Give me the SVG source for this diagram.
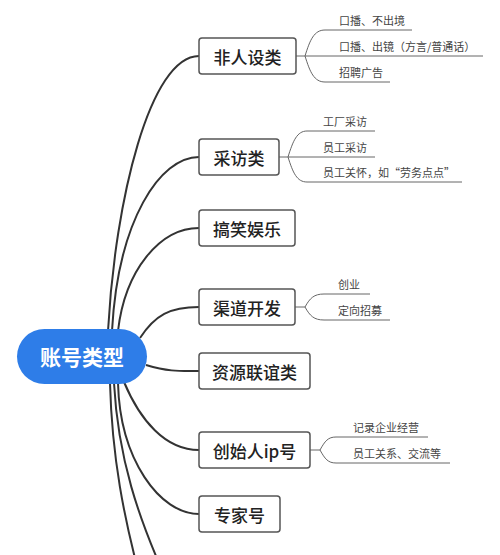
<svg xmlns="http://www.w3.org/2000/svg" width="500" height="555" viewBox="0 0 500 555">
<style>
.bg{fill:#ffffff}
.main{fill:none;stroke:#333;stroke-width:2}
.sub{fill:none;stroke:#666;stroke-width:1}
.box{fill:#fff;stroke:#555;stroke-width:1.5}
.t1{font-family:"Noto Sans CJK SC","Noto Sans",sans-serif;font-size:17px;font-weight:500;fill:#222;text-anchor:middle;dominant-baseline:central}
.t2{font-family:"Noto Sans CJK SC","Noto Sans",sans-serif;font-size:11px;fill:#444}
.root{fill:#2e7de8}
.rt{font-family:"Noto Sans CJK SC","Noto Sans",sans-serif;font-size:21px;font-weight:bold;fill:#fff;text-anchor:middle;dominant-baseline:central}
</style>
<rect class="bg" width="500" height="555"/>
<g id="connectors">
<path class="main" d="M108 331 C115 200 150 56 199 56"/>
<path class="main" d="M112 331 C118 220 160 157 199 157"/>
<path class="main" d="M118 331 C125 270 160 228 199 228"/>
<path class="main" d="M140 338 C155 315 170 307 199 307"/>
<path class="main" d="M146 365 C170 372 180 371 199 371"/>
<path class="main" d="M124 382 C140 420 165 450 199 450"/>
<path class="main" d="M118 383 C120 460 160 514 199 514"/>
<path class="main" d="M110 383 C112 460 125 520 138 570"/>
<path class="main" d="M114 383 C118 460 140 520 162 570"/>
<path class="sub" d="M296 56 L305 56 C310 40 314 30 325 30"/>
<path class="sub" d="M305 56 L325 56"/>
<path class="sub" d="M305 56 C310 72 314 82 325 82"/>
<path class="sub" d="M279 157 L288 157 C293 141 297 131 307 131"/>
<path class="sub" d="M288 157 L307 157"/>
<path class="sub" d="M288 157 C293 173 297 182 307 182"/>
<path class="sub" d="M295 307 L305 307 C310 298 314 294 324 294"/>
<path class="sub" d="M305 307 C310 316 314 320 324 320"/>
<path class="sub" d="M310 450 L320 450 C325 441 328 437 336 437"/>
<path class="sub" d="M320 450 C325 459 328 463 336 463"/>
</g>
<g id="root">
<rect class="root" x="17" y="329" width="130" height="55" rx="27.5"/>
<text class="rt" x="82" y="356">账号类型</text>
</g>
<g id="n1">
<rect class="box" x="199" y="38" width="97" height="36" rx="3"/>
<text class="t1" x="247.5" y="56">非人设类</text>
</g>
<g id="n1a"><path class="sub" d="M325 30 H412"/><text class="t2" x="339" y="25">口播、不出境</text></g>
<g id="n1b"><path class="sub" d="M325 56 H483"/><text class="t2" x="339" y="51">口播、出镜（方言/普通话）</text></g>
<g id="n1c"><path class="sub" d="M325 82 H390"/><text class="t2" x="339" y="77">招聘广告</text></g>
<g id="n2">
<rect class="box" x="199" y="139" width="80" height="36" rx="3"/>
<text class="t1" x="239" y="157">采访类</text>
</g>
<g id="n2a"><path class="sub" d="M307 131 H375"/><text class="t2" x="323" y="126">工厂采访</text></g>
<g id="n2b"><path class="sub" d="M307 157 H375"/><text class="t2" x="323" y="152">员工采访</text></g>
<g id="n2c"><path class="sub" d="M307 182 H462"/><text class="t2" x="323" y="177">员工关怀，如“劳务点点”</text></g>
<g id="n3">
<rect class="box" x="199" y="210" width="96" height="36" rx="3"/>
<text class="t1" x="247" y="228">搞笑娱乐</text>
</g>
<g id="n4">
<rect class="box" x="199" y="289" width="96" height="36" rx="3"/>
<text class="t1" x="247" y="307">渠道开发</text>
</g>
<g id="n4a"><path class="sub" d="M324 294 H370"/><text class="t2" x="338" y="289">创业</text></g>
<g id="n4b"><path class="sub" d="M324 320 H390"/><text class="t2" x="338" y="315">定向招募</text></g>
<g id="n5">
<rect class="box" x="199" y="353" width="111" height="36" rx="3"/>
<text class="t1" x="254.5" y="371">资源联谊类</text>
</g>
<g id="n6">
<rect class="box" x="199" y="432" width="111" height="36" rx="3"/>
<text class="t1" x="254.5" y="450">创始人ip号</text>
</g>
<g id="n6a"><path class="sub" d="M336 437 H428"/><text class="t2" x="353" y="432">记录企业经营</text></g>
<g id="n6b"><path class="sub" d="M336 463 H450"/><text class="t2" x="353" y="458">员工关系、交流等</text></g>
<g id="n7">
<rect class="box" x="199" y="496" width="81" height="36" rx="3"/>
<text class="t1" x="239.5" y="514">专家号</text>
</g>
</svg>
